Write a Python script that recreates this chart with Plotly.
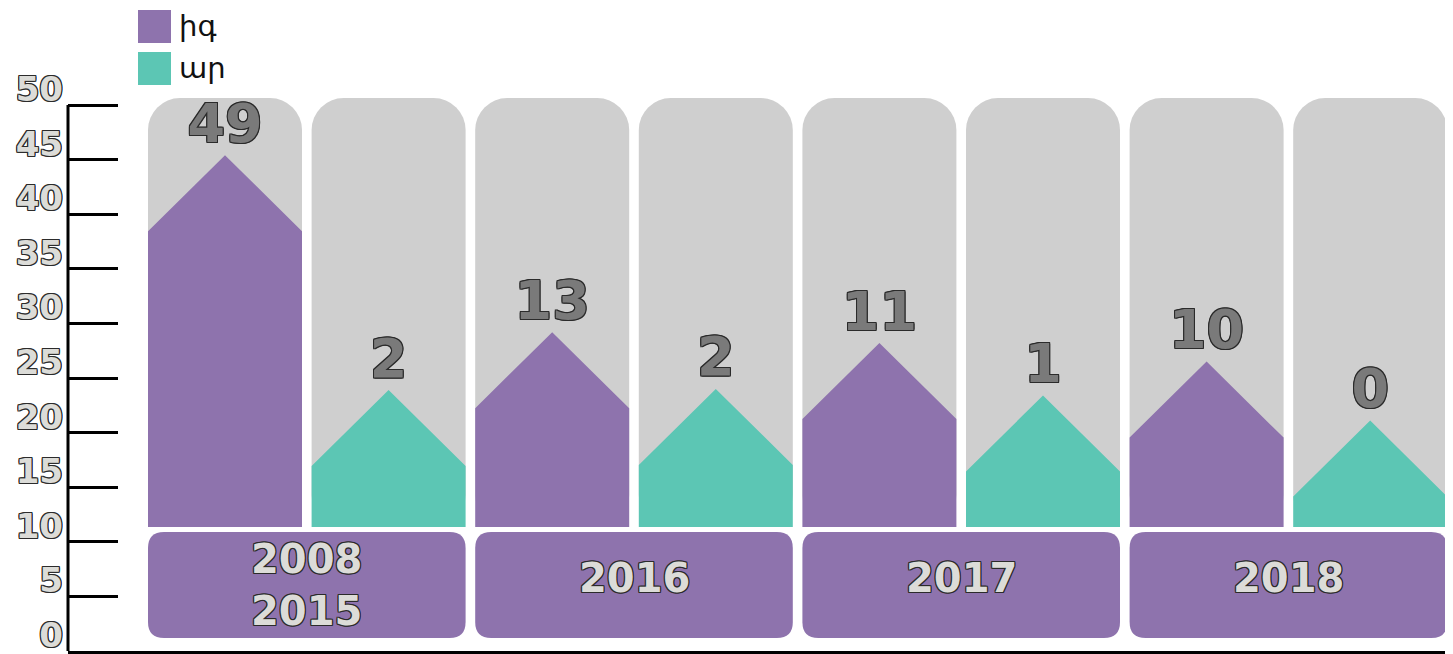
import plotly.graph_objects as go

# ---------------- data ----------------
periods = ["2008<br>2015", "2016", "2017", "2018"]
series_names = ["իգ", "ար"]
values_ig = [49, 13, 11, 10]          # printed counts, series "իգ"
values_ar = [2, 2, 1, 0]              # printed counts, series "ար"
peak_ig = [45.4, 29.2, 28.2, 26.5]    # height of the house tip on the y axis
peak_ar = [23.9, 24.0, 23.4, 21.1]
y_ticks = [0, 5, 10, 15, 20, 25, 30, 35, 40, 45, 50]

# ---------------- styles / layout constants ----------------
PURPLE = "#8E73AD"
TEAL = "#5CC6B4"
GREY = "#CFCFCF"
OFF = 8                      # default page body margin of the html page
W, H = 1453 - OFF, 654 - OFF
ML, MR, MT, MB = 60, 3, 75, 3
PX_PER_X = 163.6
PX_PER_Y = 10.92
Y_MAX = (H - MT - MB) / PX_PER_Y
BAR_W = 154 / PX_PER_X
HALF = BAR_W / 2
BAR_BOTTOM = 11.36
GREY_TOP = 50.64
ROOF = 76 / PX_PER_Y
BOX_TOP, BOX_BOT = 10.9, 1.19
X0 = -(225 - OFF - ML) / PX_PER_X
X1 = X0 + (W - ML - MR) / PX_PER_X


def outline(c):
    return (f"1px 0 0 {c}, -1px 0 0 {c}, 0 1px 0 {c}, 0 -1px 0 {c}, "
            f"1px 1px 0 {c}, -1px -1px 0 {c}, 1px -1px 0 {c}, -1px 1px 0 {c}")


def rounded_rect(x0, x1, y0, y1, rpx):
    rx, ry = rpx / PX_PER_X, rpx / PX_PER_Y
    return (f"M {x0+rx},{y0} L {x1-rx},{y0} Q {x1},{y0} {x1},{y0+ry} "
            f"L {x1},{y1-ry} Q {x1},{y1} {x1-rx},{y1} L {x0+rx},{y1} "
            f"Q {x0},{y1} {x0},{y1-ry} L {x0},{y0+ry} Q {x0},{y0} {x0+rx},{y0} Z")


# column positions: period k -> columns 2k ("իգ") and 2k+1 ("ար")
xs_ig = [2 * k for k in range(len(periods))]
xs_ar = [2 * k + 1 for k in range(len(periods))]
all_x = sorted(xs_ig + xs_ar)

fig = go.Figure()

# grey rounded background columns
fig.add_trace(go.Bar(
    x=all_x, y=[GREY_TOP - BAR_BOTTOM] * len(all_x), base=BAR_BOTTOM,
    width=BAR_W, marker=dict(color=GREY, cornerradius=32, line=dict(width=0)),
    showlegend=False, hoverinfo="skip"))


def house_trace(xs, peaks, color, name):
    px, py = [], []
    for xc, pk in zip(xs, peaks):
        px += [xc - HALF, xc - HALF, xc, xc + HALF, xc + HALF, xc - HALF, None]
        py += [BAR_BOTTOM, pk - ROOF, pk, pk - ROOF, BAR_BOTTOM, BAR_BOTTOM, None]
    return go.Scatter(x=px, y=py, mode="lines", fill="toself", fillcolor=color,
                      line=dict(width=0, color=color), name=name,
                      showlegend=False, hoverinfo="skip")


fig.add_trace(house_trace(xs_ig, peak_ig, PURPLE, series_names[0]))
fig.add_trace(house_trace(xs_ar, peak_ar, TEAL, series_names[1]))

# printed value labels
label_font = dict(family="DejaVu Sans", size=54, color="#7A7A7A", weight="bold",
                  shadow=outline("#2B2B2B"))
for xs, vals, peaks in [(xs_ig, values_ig, peak_ig), (xs_ar, values_ar, peak_ar)]:
    fig.add_trace(go.Scatter(
        x=xs, y=peaks, text=[str(v) for v in vals], mode="text",
        textposition="top center", textfont=label_font,
        showlegend=False, hoverinfo="skip", cliponaxis=False))

# period boxes
shapes = []
annotations = []
year_font = dict(family="DejaVu Sans", size=40, color="#DCDCD8", weight="bold",
                 shadow=outline("#2B2B2B"))
for k, p in enumerate(periods):
    x0 = xs_ig[k] - HALF
    x1 = xs_ar[k] + HALF
    shapes.append(dict(type="path", xref="x", yref="y",
                       path=rounded_rect(x0, x1, BOX_BOT, BOX_TOP, 16),
                       fillcolor=PURPLE, line=dict(width=0), layer="above"))
    cy = (BOX_TOP + BOX_BOT) / 2
    annotations.append(dict(x=(x0 + x1) / 2, y=cy, xref="x", yref="y",
                            text=p, showarrow=False,
                            yshift=7 if "<br>" not in p else 0,
                            font=year_font))

# y axis line (from 0 up to 50 only)
shapes.append(dict(type="line", xref="paper", yref="y", x0=0, x1=0,
                   y0=0, y1=50, line=dict(color="black", width=3),
                   layer="above"))


# legend (drawn manually)
def px2paper(xp, yp):
    xf, yf = xp - OFF, yp - OFF
    return (xf - ML) / (W - ML - MR), (H - MB - yf) / (H - MT - MB)


for i, (nm, col) in enumerate(zip(series_names, [PURPLE, TEAL])):
    top = 10 + 42 * i
    ax0, ay1 = px2paper(138, top)
    ax1, ay0 = px2paper(171, top + 33)
    shapes.append(dict(type="rect", xref="paper", yref="paper",
                       x0=ax0, x1=ax1, y0=ay0, y1=ay1,
                       fillcolor=col, line=dict(width=0)))
    tx, ty = px2paper(177, top + 16)
    annotations.append(dict(x=tx, y=ty, xref="paper", yref="paper",
                            text=nm, showarrow=False, xanchor="left",
                            yanchor="middle",
                            font=dict(family="DejaVu Sans", size=29,
                                      color="#111111")))

fig.update_layout(
    width=W, height=H,
    margin=dict(l=ML, r=MR, t=MT, b=MB, pad=0, autoexpand=False),
    plot_bgcolor="white", paper_bgcolor="white",
    barmode="overlay", showlegend=False,
    shapes=shapes, annotations=annotations,
    xaxis=dict(range=[X0, X1], showgrid=False, zeroline=False,
               showticklabels=False, ticks="", showline=True,
               linecolor="black", linewidth=3, fixedrange=True,
               automargin=False),
    yaxis=dict(range=[0, Y_MAX], tickvals=y_ticks, showgrid=False,
               zeroline=False, showline=False, automargin=False,
               ticks="inside", ticklen=50, tickwidth=3, tickcolor="black",
               ticklabelshift=-16, ticklabelstandoff=4,
               ticklabeloverflow="allow",
               tickfont=dict(family="DejaVu Sans", size=34, color="#DCDCD8",
                             weight="bold", shadow=outline("#2B2B2B")),
               fixedrange=True),
)

fig.write_html("out.html")
